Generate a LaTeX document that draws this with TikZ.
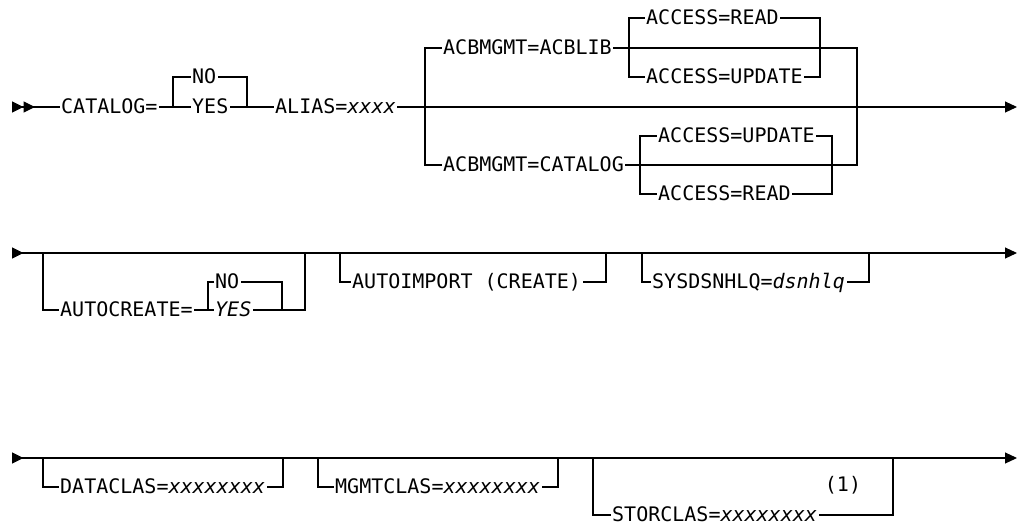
\documentclass[tikz,border=0pt]{standalone}
\usepackage{fontspec}
\newfontfamily\railfont{DejaVu Sans Mono}
\usetikzlibrary{arrows.meta}

\begin{document}
\begin{tikzpicture}[x=1pt, y=-1pt,
    rail/.style={line width=1.1pt, line cap=rect},
    kw/.style={anchor=west, inner xsep=2pt, inner ysep=0pt,
               font=\railfont\fontsize{20}{24}\selectfont,
               text height=14pt, text depth=2pt},
    fn/.style={font=\railfont\fontsize{20}{24}\selectfont, inner sep=0pt},
    tipA/.tip={Triangle[length=12pt, width=11pt]},
    tipB/.tip={Triangle[reversed, length=11.5pt, width=11pt]},
]
\useasboundingbox (0,0) rectangle (1018,525);

% row 1
\coordinate (s1) at (12,107);
\coordinate (e1) at (1017,107);
\coordinate (j1) at (173,107);
\coordinate (k1) at (247,107);
\coordinate (b1) at (425,107);
\coordinate (m1) at (857,107);
\coordinate (j2) at (629,48);
\coordinate (k2) at (820,48);
\coordinate (j3) at (640,165);
\coordinate (k3) at (832,165);

\node[kw] (cat) at (59,107) {CATALOG=};
\node[kw] (no1) at (190,77) {NO};
\node[kw] (yes1) at (190,107) {YES};
\node[kw] (alias) at (273,107) {ALIAS=\textit{xxxx}};
\node[kw] (acblib) at (441,48) {ACBMGMT=ACBLIB};
\node[kw] (rd1) at (644,18) {ACCESS=READ};
\node[kw] (up1) at (644,77) {ACCESS=UPDATE};
\node[kw] (catl) at (441,165) {ACBMGMT=CATALOG};
\node[kw] (up2) at (656,136) {ACCESS=UPDATE};
\node[kw] (rd2) at (656,194) {ACCESS=READ};

\draw[rail, {tipB[]tipB[]}-] (s1) -- (cat);
\foreach \a/\b in {cat/yes1, yes1/alias}
    \draw[rail] (\a) -- (\b);
\draw[rail, -tipA] (alias) -- (e1);
\draw[rail] (j1) |- (no1);
\draw[rail] (no1) -| (k1);
\draw[rail] (acblib) -| (b1);
\draw[rail] (b1) |- (catl);
\foreach \a in {acblib, catl}
    \draw[rail] (\a) -| (m1);
\foreach \a/\b in {j2/rd1, j2/up1, j3/up2, j3/rd2}
    \draw[rail] (\a) |- (\b);
\foreach \a/\b in {rd1/k2, up1/k2, up2/k3, rd2/k3}
    \draw[rail] (\a) -| (\b);

% row 2
\coordinate (s2) at (12,253);
\coordinate (e2) at (1017,253);
\coordinate (o1) at (43,253);
\coordinate (p1) at (305,253);
\coordinate (j4) at (208,310);
\coordinate (k4) at (282,310);
\coordinate (o2) at (340,253);
\coordinate (p2) at (606,253);
\coordinate (o3) at (642,253);
\coordinate (p3) at (869,253);

\node[kw] (ac) at (58,310) {AUTOCREATE=};
\node[kw] (no2) at (213,282) {NO};
\node[kw] (yes2) at (213,310) {\textit{YES}};
\node[kw] (ai) at (350,282) {AUTOIMPORT (CREATE)};
\node[kw] (sy) at (650,282) {SYSDSNHLQ=\textit{dsnhlq}};

\draw[rail, tipB-tipA] (s2) -- (e2);
\draw[rail] (ac) -- (yes2);
\draw[rail] (j4) |- (no2);
\draw[rail] (no2) -| (k4);
\foreach \a/\b in {o1/ac, o2/ai, o3/sy}
    \draw[rail] (\a) |- (\b);
\foreach \a/\b in {yes2/p1, ai/p2, sy/p3}
    \draw[rail] (\a) -| (\b);

% row 3
\coordinate (s3) at (12,458);
\coordinate (e3) at (1017,458);
\coordinate (o4) at (43,458);
\coordinate (p4) at (283,458);
\coordinate (o5) at (318,458);
\coordinate (p5) at (558,458);
\coordinate (o6) at (593,458);
\coordinate (p6) at (893,458);

\node[kw] (dc) at (58,487) {DATACLAS=\textit{xxxxxxxx}};
\node[kw] (mc) at (333,487) {MGMTCLAS=\textit{xxxxxxxx}};
\node[kw] (sc) at (610,515) {STORCLAS=\textit{xxxxxxxx}};
\node[fn] (note) at (843,485) {(1)};

\draw[rail, tipB-tipA] (s3) -- (e3);
\foreach \a/\b in {o4/dc, o5/mc, o6/sc}
    \draw[rail] (\a) |- (\b);
\foreach \a/\b in {dc/p4, mc/p5, sc/p6}
    \draw[rail] (\a) -| (\b);
\end{tikzpicture}
\end{document}
